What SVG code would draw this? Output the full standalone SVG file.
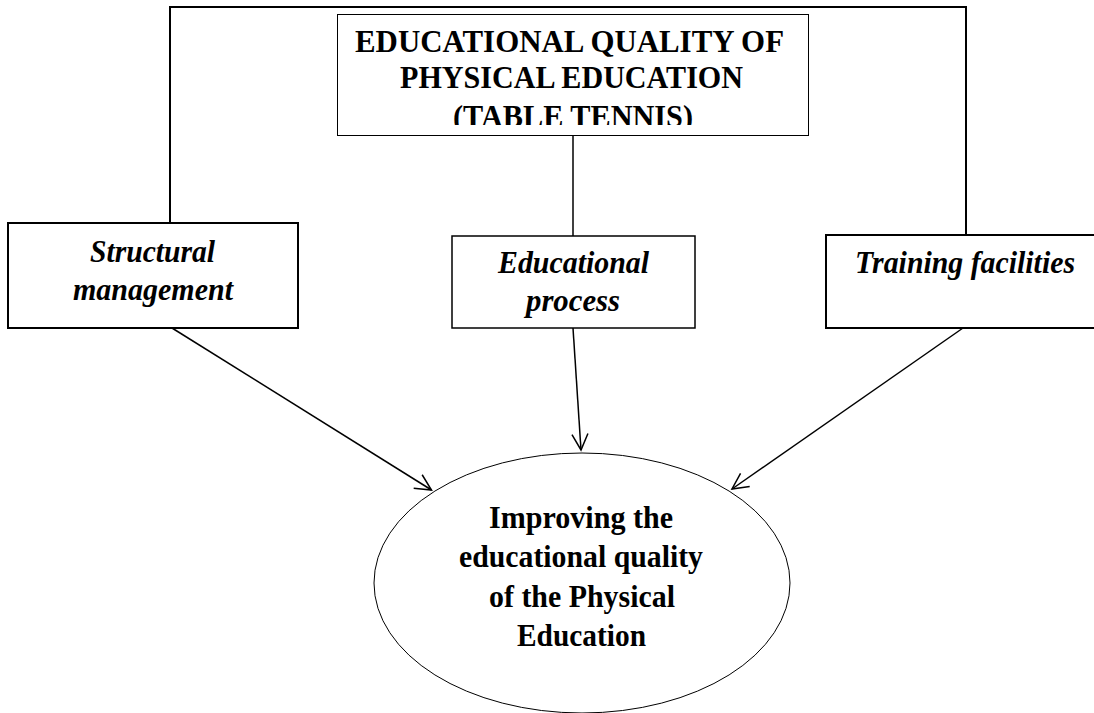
<svg xmlns="http://www.w3.org/2000/svg" width="1094" height="713" viewBox="0 0 1094 713">
  <style>
    .box { fill: #ffffff; stroke: #000000; }
    .title { font-family: "Liberation Serif", "Times New Roman", serif; font-weight: bold; font-size: 32px; fill: #000000; text-anchor: middle; }
    .outcome { font-family: "Liberation Serif", "Times New Roman", serif; font-weight: bold; font-size: 31px; fill: #000000; text-anchor: middle; }
    .factor { font-family: "Liberation Serif", "Times New Roman", serif; font-weight: bold; font-style: italic; font-size: 32px; fill: #000000; text-anchor: middle; }
    .link { fill: none; stroke: #000000; stroke-width: 1.5; }
    .frame { fill: none; stroke: #000000; stroke-width: 2; }
  </style>
  <defs>
    <marker id="openArrow" markerUnits="userSpaceOnUse" markerWidth="40" markerHeight="40" viewBox="-20 -20 40 40" refX="0" refY="0" orient="auto" overflow="visible">
      <path d="M-16,-8 L0,0 L-16,8" fill="none" stroke="#000000" stroke-width="1.5"/>
    </marker>
    <clipPath id="titleClip">
      <rect x="337" y="14" width="471" height="111"/>
    </clipPath>
  </defs>

  <rect width="1094" height="713" fill="#ffffff"/>

  <!-- connectors -->
  <g id="connectors">
    <polyline class="frame" points="170,223 170,7 966,7 966,235"/>
    <line class="link" x1="573" y1="136" x2="573" y2="236"/>
    <line class="link" x1="172" y1="328" x2="431.5" y2="490" marker-end="url(#openArrow)"/>
    <line class="link" x1="573" y1="328" x2="581" y2="450" marker-end="url(#openArrow)"/>
    <line class="link" x1="963" y1="328" x2="732" y2="489" marker-end="url(#openArrow)"/>
  </g>

  <!-- top concept box -->
  <g id="node-quality">
    <rect class="box" x="337.5" y="14.5" width="471" height="121" stroke="#444444" stroke-width="1"/>
    <g clip-path="url(#titleClip)">
      <text class="title" x="569.5" y="52" textLength="429" lengthAdjust="spacingAndGlyphs">EDUCATIONAL QUALITY OF</text>
      <text class="title" x="571.5" y="88" textLength="343" lengthAdjust="spacingAndGlyphs">PHYSICAL EDUCATION</text>
      <text class="title" x="573" y="127" textLength="240" lengthAdjust="spacingAndGlyphs">(TABLE TENNIS)</text>
    </g>
  </g>

  <!-- factor boxes -->
  <g id="node-structural">
    <rect class="box" x="8" y="223" width="290" height="105" stroke-width="2"/>
    <text class="factor" x="152.5" y="262" textLength="125" lengthAdjust="spacingAndGlyphs">Structural</text>
    <text class="factor" x="153" y="300" textLength="160" lengthAdjust="spacingAndGlyphs">management</text>
  </g>

  <g id="node-process">
    <rect class="box" x="452" y="236" width="243" height="92" stroke-width="1.5"/>
    <text class="factor" x="573.5" y="273" textLength="151" lengthAdjust="spacingAndGlyphs">Educational</text>
    <text class="factor" x="573" y="311" textLength="94" lengthAdjust="spacingAndGlyphs">process</text>
  </g>

  <g id="node-facilities">
    <rect class="box" x="826" y="235" width="278" height="93" stroke-width="2"/>
    <text class="factor" x="965" y="273" textLength="220" lengthAdjust="spacingAndGlyphs">Training facilities</text>
  </g>

  <!-- outcome ellipse -->
  <g id="node-outcome">
    <ellipse cx="582" cy="583" rx="208" ry="130" fill="#ffffff" stroke="#000000" stroke-width="1"/>
    <text class="outcome" x="581" y="528" textLength="184" lengthAdjust="spacingAndGlyphs">Improving the</text>
    <text class="outcome" x="581" y="567" textLength="244" lengthAdjust="spacingAndGlyphs">educational quality</text>
    <text class="outcome" x="582" y="607" textLength="186" lengthAdjust="spacingAndGlyphs">of the Physical</text>
    <text class="outcome" x="581.5" y="646" textLength="129" lengthAdjust="spacingAndGlyphs">Education</text>
  </g>
</svg>
